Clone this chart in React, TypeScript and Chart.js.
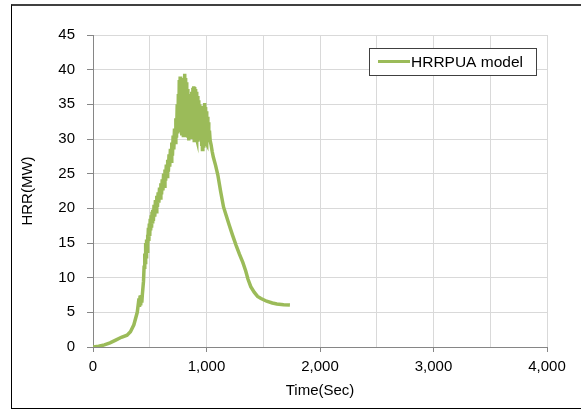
import React, { useEffect, useRef } from "react";
import { Chart, registerables } from "chart.js";

Chart.register(...registerables);

const seriesLabel = "HRRPUA model";
const timeSec = [
  0, 50, 100, 150, 200, 250, 300, 330, 360, 390, 405, 410, 415, 420, 425, 430, 435, 445, 450, 456,
  460, 464, 468, 472, 476, 480, 484, 488, 492, 496, 500, 504, 508, 512, 516, 520, 524, 528, 532, 538,
  544, 550, 556, 562, 568, 574, 580, 586, 592, 598, 604, 610, 616, 622, 628, 634, 640, 646, 652, 658,
  664, 670, 676, 682, 688, 694, 700, 706, 712, 718, 724, 730, 736, 742, 748, 752, 756, 760, 764, 768,
  772, 776, 780, 784, 788, 792, 796, 800, 804, 808, 812, 816, 820, 824, 828, 832, 836, 840, 844, 848,
  852, 856, 860, 864, 868, 872, 876, 880, 884, 888, 892, 896, 900, 904, 908, 912, 916, 920, 924, 928,
  932, 936, 940, 944, 948, 952, 956, 960, 964, 968, 972, 976, 980, 984, 988, 992, 996, 1000, 1004, 1008,
  1012, 1016, 1020, 1026, 1032, 1040, 1050, 1060, 1080, 1100, 1125, 1150, 1175, 1200, 1230, 1260, 1290, 1320, 1345, 1365,
  1390, 1420, 1450, 1480, 1530, 1580, 1620, 1680, 1735,
];
const hrrMW = [
  0, 0.1, 0.3, 0.6, 1.0, 1.4, 1.7, 2.2, 3.2, 5.0, 7.0, 5.8, 7.4, 6.0, 7.5, 6.4, 7.6, 9.5, 11.5, 13.5,
  12.2, 15, 13, 15.5, 13.8, 16.2, 14.6, 17.2, 15.3, 17.8, 16, 18.5, 16.8, 19, 17.2, 19.5, 17.8, 19.8, 18.2, 20.5,
  18.8, 21.2, 19.5, 21.8, 20.2, 22.3, 20.8, 23, 21.5, 23.6, 22, 24.2, 22.6, 25, 23.2, 25.6, 24, 26.3, 24.6, 27,
  25.3, 27.8, 26, 28.6, 26.8, 29.5, 27.6, 30.5, 28.5, 31.5, 29.5, 33, 30.2, 35, 30.8, 36.5, 31, 38.5, 32, 39,
  31, 38.2, 30.5, 37.5, 31.5, 38.5, 30.5, 38.8, 31, 39.4, 32, 38.8, 30.5, 38.2, 31, 37.2, 30.2, 36.5, 29.8, 35.8,
  30.4, 35.2, 30, 36, 30.6, 36.8, 31, 37.4, 30.2, 37.6, 29.8, 37.5, 30, 37.2, 30.4, 36.8, 30, 36.2, 29.6, 35.6,
  30.2, 35, 29.8, 34.8, 30.2, 34.4, 29, 34, 28.5, 34.2, 29, 34.8, 29.5, 35.2, 29.2, 34.6, 29.5, 34, 29.3, 33.2,
  29.6, 32.4, 30, 31.2, 29.8, 29.2, 28.2, 27.4, 26.2, 24.8, 22.4, 20.2, 18.9, 17.6, 16.1, 14.7, 13.4, 12.2, 11, 9.8,
  8.7, 7.9, 7.3, 7.0, 6.6, 6.35, 6.2, 6.1, 6.05,
];
const xTicks = [0, 1000, 2000, 3000, 4000];
const yTicks = [0, 5, 10, 15, 20, 25, 30, 35, 40, 45];
const xTitle = "Time(Sec)";
const yTitle = "HRR(MW)";

const FONT = "'Liberation Sans', Arial, sans-serif";
const LINE_COLOR = "#9BBB59";

const boxLegend = {
  id: "boxLegend",
  afterDraw(chart: any) {
    const { ctx, chartArea } = chart;
    const ds = chart.data.datasets[0];
    const right = chartArea.right - 11;
    const top = chartArea.top + 13;
    const w = 167;
    const h = 27;
    const left = right - w;
    ctx.save();
    ctx.fillStyle = "#fff";
    ctx.fillRect(left, top, w, h);
    ctx.strokeStyle = "#404040";
    ctx.lineWidth = 1;
    ctx.strokeRect(Math.round(left) + 0.5, Math.round(top) + 0.5, w, h);
    const cy = top + h / 2;
    ctx.strokeStyle = ds.borderColor;
    ctx.lineWidth = 3;
    ctx.beginPath();
    ctx.moveTo(left + 9, cy);
    ctx.lineTo(left + 41, cy);
    ctx.stroke();
    ctx.fillStyle = "#000";
    ctx.font = `15.5px ${FONT}`;
    ctx.textBaseline = "middle";
    ctx.textAlign = "left";
    ctx.fillText(ds.label, left + 42, cy + 1);
    ctx.restore();
  },
};

export default function App() {
  const ref = useRef<HTMLCanvasElement | null>(null);
  useEffect(() => {
    if (!ref.current) return;
    const chart = new Chart(ref.current, {
      type: "line",
      data: {
        datasets: [
          {
            label: seriesLabel,
            data: timeSec.map((t, i) => ({ x: t, y: hrrMW[i] })),
            borderColor: LINE_COLOR,
            backgroundColor: LINE_COLOR,
            borderWidth: 3.5,
            pointRadius: 0,
            tension: 0,
            fill: false,
          },
        ],
      },
      options: {
        animation: false,
        responsive: false,
        layout: { padding: { left: 0, right: 34, top: 35, bottom: 0 } },
        plugins: {
          legend: { display: false },
          tooltip: { enabled: false },
        },
        scales: {
          x: {
            type: "linear",
            min: xTicks[0],
            max: xTicks[xTicks.length - 1],
            afterBuildTicks: (scale: any) => {
              const t: any[] = [];
              for (let v = xTicks[0]; v <= xTicks[xTicks.length - 1]; v += 500) t.push({ value: v });
              scale.ticks = t;
            },
            afterFit: (scale: any) => {
              scale.height = 62;
            },
            grid: {
              color: "#d9d9d9",
              lineWidth: 1,
              tickLength: 5,
              tickColor: (c: any) => (c.tick && xTicks.includes(c.tick.value) ? "#868686" : "rgba(0,0,0,0)"),
            },
            border: { color: "#868686", width: 1 },
            ticks: {
              color: "#000",
              font: { family: FONT, size: 15 },
              padding: 6,
              maxRotation: 0,
              autoSkip: false,
              callback: (v: any) => (xTicks.includes(Number(v)) ? Number(v).toLocaleString("en-US") : ""),
            },
            title: {
              display: true,
              text: xTitle,
              color: "#000",
              font: { family: FONT, size: 15 },
              padding: { top: 0, bottom: 9 },
            },
          },
          y: {
            type: "linear",
            min: yTicks[0],
            max: yTicks[yTicks.length - 1],
            afterBuildTicks: (scale: any) => {
              scale.ticks = yTicks.map((v) => ({ value: v }));
            },
            afterFit: (scale: any) => {
              scale.width = 93;
            },
            grid: {
              color: "#d9d9d9",
              lineWidth: 1,
              tickLength: 6,
              tickColor: "#868686",
            },
            border: { color: "#868686", width: 1 },
            ticks: {
              color: "#000",
              font: { family: FONT, size: 15 },
              padding: 12,
              autoSkip: false,
            },
            title: {
              display: true,
              text: yTitle,
              color: "#000",
              font: { family: FONT, size: 15 },
              padding: { top: 19, bottom: 0 },
            },
          },
        },
      },
      plugins: [boxLegend],
    });
    return () => chart.destroy();
  }, []);

  return (
    <div style={{ position: "fixed", left: 0, top: 0, width: 581, height: 409, background: "#fff", overflow: "hidden" }}>
      <div
        style={{
          position: "absolute",
          left: 11,
          top: 4,
          width: 600,
          height: 402,
          borderTop: "2px solid #404040",
          borderLeft: "1px solid #000",
          borderBottom: "1px solid #000",
        }}
      />
      <canvas ref={ref} width={581} height={409} style={{ position: "absolute", left: 0, top: 0, display: "block" }} />
    </div>
  );
}
